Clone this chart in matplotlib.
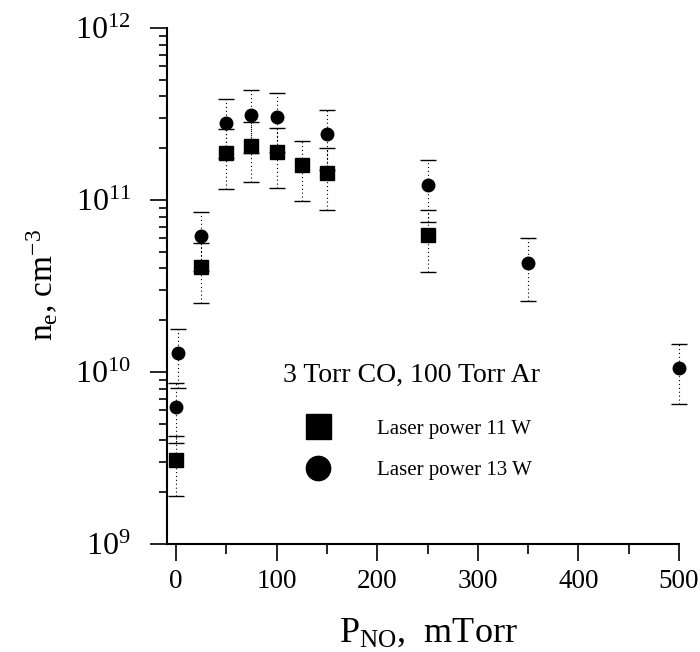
import matplotlib
matplotlib.use("Agg")
import matplotlib.pyplot as plt
from matplotlib.lines import Line2D
from matplotlib.ticker import MultipleLocator, LogLocator, LogFormatterMathtext, NullFormatter

plt.rcParams['font.family'] = ['Liberation Serif', 'DejaVu Serif']
plt.rcParams['mathtext.fontset'] = 'custom'
plt.rcParams['mathtext.rm'] = 'Liberation Serif'
plt.rcParams['mathtext.it'] = 'Liberation Serif:italic'
plt.rcParams['mathtext.default'] = 'regular'

# --- data ---
p_no_11 = [0, 25, 50, 75, 100, 125, 150, 250]
ne_11 = [3.08e9, 4.07e10, 1.875e11, 2.06e11, 1.90e11, 1.60e11, 1.44e11, 6.27e10]
err_11 = [1.18e9, 1.55e10, 0.72e11, 0.79e11, 0.72e11, 0.61e11, 0.56e11, 2.46e10]

p_no_13 = [0, 2, 25, 50, 75, 100, 150, 250, 350, 500]
ne_13 = [6.26e9, 1.29e10, 6.18e10, 2.81e11, 3.12e11, 3.04e11, 2.42e11, 1.22e11, 4.3e10, 1.055e10]
err_13 = [2.4e9, 0.48e10, 2.33e10, 1.05e11, 1.25e11, 1.15e11, 0.92e11, 0.48e11, 1.7e10, 0.4e10]

legend_title = "3 Torr CO, 100 Torr Ar"
legend_labels = ["Laser power 11 W", "Laser power 13 W"]
x_ticks = [0, 100, 200, 300, 400, 500]

fig = plt.figure(figsize=(7.0, 6.52), dpi=100)
ax = fig.add_axes([167/700, (652-544)/652, 512/700, 516/652])

for x, y, e, mk, ms in [(p_no_11, ne_11, err_11, 's', 10.5), (p_no_13, ne_13, err_13, 'o', 9)]:
    eb = ax.errorbar(x, y, yerr=e, fmt=mk, ms=ms, color='k', mec='k', ecolor='k',
                     elinewidth=0.8, capsize=6, capthick=1.0)
    eb[0].set_clip_on(False)
    for cl in eb[1]:
        cl.set_clip_on(False)
    for lc in eb[2]:
        lc.set_linestyle((0, (1, 2.5)))
        lc.set_clip_on(False)

ax.set_yscale('log')
ax.set_ylim(1e9, 1e12)
ax.set_xlim(-9, 500)
ax.set_xticks(x_ticks)
ax.xaxis.set_minor_locator(MultipleLocator(50))
ax.yaxis.set_major_locator(LogLocator(base=10))
ax.yaxis.set_major_formatter(LogFormatterMathtext())
ax.yaxis.set_minor_locator(LogLocator(base=10, subs=range(2, 10)))
ax.yaxis.set_minor_formatter(NullFormatter())

for s in ['top', 'right']:
    ax.spines[s].set_visible(False)
for s in ['left', 'bottom']:
    ax.spines[s].set_linewidth(1.5)

ax.tick_params(axis='y', which='major', direction='out', length=12, width=1.2, labelsize=23, pad=14)
ax.tick_params(axis='y', which='minor', direction='out', length=6, width=1.2)
ax.tick_params(axis='x', which='major', direction='out', length=12, width=1.2, labelsize=19.5, pad=6)
ax.tick_params(axis='x', which='minor', direction='out', length=7, width=1.2)

ax.set_xlabel(r"P$_{\mathregular{NO}}$,  mTorr", fontsize=26)
ax.xaxis.set_label_coords((428-167)/512, (544-617)/516)
ax.set_ylabel(r"n$_{\mathregular{e}}$, cm$^{\mathregular{-3}}$", fontsize=24)
ax.yaxis.set_label_coords((60-167)/512, (544-285)/516)

fig.text(412/700, 1-375/652, legend_title, ha='center', va='center', fontsize=20)
handles = [Line2D([], [], marker='s', ls='none', color='k', ms=18),
           Line2D([], [], marker='o', ls='none', color='k', ms=17.5)]
ax.legend(handles, legend_labels, loc='center left',
          bbox_to_anchor=(302/700, 1-449.5/652), bbox_transform=fig.transFigure,
          frameon=False, fontsize=15, handlelength=1.5, handletextpad=2.1,
          labelspacing=1.04, borderpad=0, borderaxespad=0)

fig.savefig("out.png", dpi=100)
